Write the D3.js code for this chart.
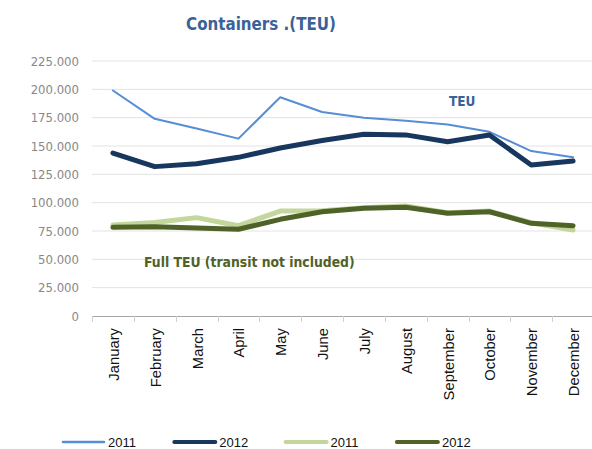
<!DOCTYPE html>
<html>
<head>
<meta charset="utf-8">
<script src="https://cdn.jsdelivr.net/npm/d3@7"></script>
<style>
  body { margin: 0; background: #fff; }
  svg { display: block; }
</style>
</head>
<body>
<div id="chart"></div>
<script>
// data
const months = ["January", "February", "March", "April", "May", "June",
                "July", "August", "September", "October", "November", "December"];
const teu2011 = [199000, 174000, 165500, 156500, 193000, 180000, 175000, 172300, 169000, 162500, 145500, 140000];
const teu2012 = [143800, 131800, 134400, 140000, 148200, 154800, 160300, 159800, 153800, 159700, 133200, 136800];
const full2011 = [80300, 82500, 86800, 79700, 92600, 92900, 95600, 97000, 91100, 92600, 82300, 75900];
const full2012 = [78200, 78800, 77600, 76500, 85300, 92000, 95000, 95900, 90600, 92000, 81800, 79700];
const yTicks = [0, 25000, 50000, 75000, 100000, 125000, 150000, 175000, 200000, 225000];

const W = 592, H = 449;
const margin = { left: 92, top: 61, right: -2, bottom: 133 };

const svg = d3.select("#chart").append("svg")
    .attr("width", W).attr("height", H);

const x = d3.scaleBand()
    .domain(months)
    .range([margin.left, W - margin.right]);

const y = d3.scaleLinear()
    .domain([0, 225000])
    .range([H - margin.bottom, margin.top]);

const fmt = v => v === 0 ? "0" : d3.format(",")(v).replace(/,/g, ".");

// gridlines
svg.append("g").selectAll("line")
    .data(yTicks.filter(d => d > 0))
    .join("line")
    .attr("x1", margin.left).attr("x2", W)
    .attr("y1", d => y(d)).attr("y2", d => y(d))
    .attr("stroke", "#e3e3e3").attr("stroke-width", 1);

// y labels
svg.append("g").selectAll("text")
    .data(yTicks)
    .join("text")
    .attr("x", 79).attr("y", d => y(d))
    .attr("dy", "0.35em")
    .attr("text-anchor", "end")
    .style("font-family", "'DejaVu Sans Condensed', 'DejaVu Sans', sans-serif")
    .style("font-size", "13px")
    .attr("fill", "#888")
    .text(fmt);

// x axis line + tick marks at band edges
const x0 = y(0);
svg.append("line")
    .attr("x1", margin.left).attr("x2", W)
    .attr("y1", x0 + 0.5).attr("y2", x0 + 0.5)
    .attr("stroke", "#a6a6a6");

svg.append("g").selectAll("line")
    .data(months)
    .join("line")
    .attr("x1", d => Math.round(x(d)) + 0.5).attr("x2", d => Math.round(x(d)) + 0.5)
    .attr("y1", x0).attr("y2", x0 + 6)
    .attr("stroke", "#d0d0d0");

svg.append("g").selectAll("text")
    .data(months)
    .join("text")
    .attr("transform", d => `translate(${x(d) + x.bandwidth() / 2 + 6},${x0 + 12}) rotate(-90)`)
    .attr("text-anchor", "end")
    .style("font-family", "'Liberation Sans', Arial, sans-serif")
    .style("font-size", "14.8px")
    .attr("fill", "#111")
    .text(d => d);

// series
const series = [
    { name: "2011", values: teu2011, color: "#558ED5", width: 2, legendWidth: 2.5 },
    { name: "2012", values: teu2012, color: "#17375E", width: 5, legendWidth: 4 },
    { name: "2011", values: full2011, color: "#C3D69B", width: 5, legendWidth: 4 },
    { name: "2012", values: full2012, color: "#4F6228", width: 5, legendWidth: 4 }
];

const line = d3.line()
    .x((d, i) => x(months[i]) + x.bandwidth() / 2)
    .y(d => y(d));

svg.append("g").selectAll("path")
    .data(series)
    .join("path")
    .attr("d", s => line(s.values))
    .attr("fill", "none")
    .attr("stroke", s => s.color)
    .attr("stroke-width", s => s.width)
    .attr("stroke-linejoin", "round")
    .attr("stroke-linecap", "round");

// title and annotations
svg.append("text")
    .attr("x", 261).attr("y", 30)
    .attr("text-anchor", "middle")
    .style("font-family", "'DejaVu Sans Condensed', 'DejaVu Sans', sans-serif")
    .style("font-weight", "bold")
    .style("font-size", "16.8px")
    .attr("fill", "#3A6298")
    .text("Containers .(TEU)");

svg.append("text")
    .attr("x", 449).attr("y", 106)
    .style("font-family", "'DejaVu Sans Condensed', 'DejaVu Sans', sans-serif")
    .style("font-weight", "bold")
    .style("font-size", "13.5px")
    .attr("fill", "#3A6298")
    .text("TEU");

svg.append("text")
    .attr("x", 144).attr("y", 267)
    .style("font-family", "'DejaVu Sans Condensed', 'DejaVu Sans', sans-serif")
    .style("font-weight", "bold")
    .style("font-size", "13.8px")
    .attr("fill", "#4F6228")
    .text("Full TEU (transit not included)");

// legend
const legend = svg.append("g").selectAll("g")
    .data(series)
    .join("g")
    .attr("transform", (d, i) => `translate(${63 + i * 111.3},442)`);

legend.append("line")
    .attr("x1", 0).attr("x2", 41)
    .attr("stroke", d => d.color)
    .attr("stroke-width", d => d.legendWidth)
    .attr("stroke-linecap", "round");

legend.append("text")
    .attr("x", 45).attr("dy", "0.35em")
    .style("font-family", "'Liberation Sans Narrow', 'Liberation Sans', sans-serif")
    .style("font-size", "13px")
    .attr("fill", "#111")
    .text(d => d.name);
</script>
</body>
</html>
